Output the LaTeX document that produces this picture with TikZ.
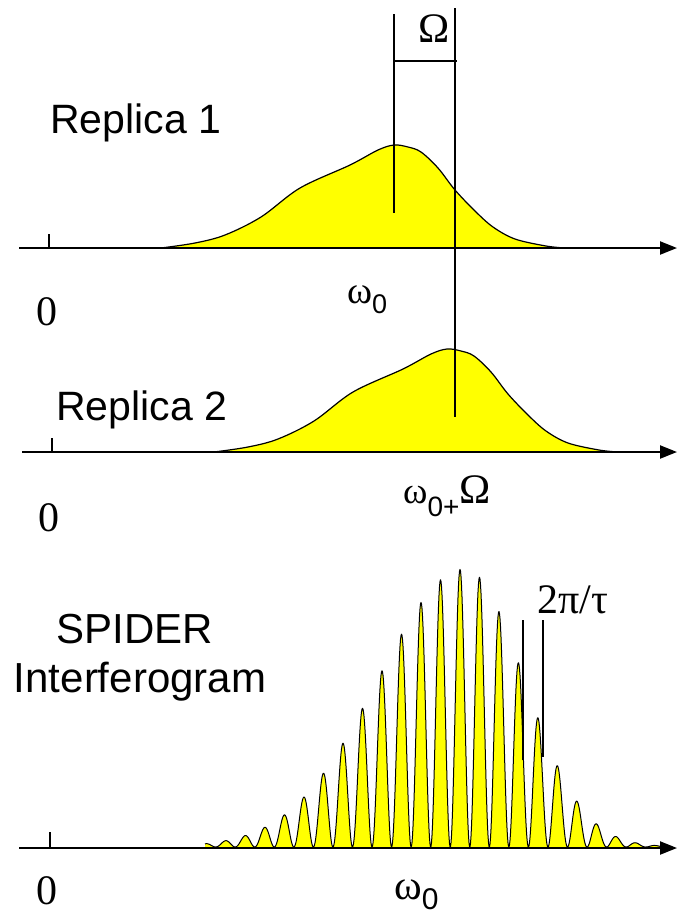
\documentclass[tikz,border=0pt]{standalone}
\usepackage{fontspec}
\setmainfont{Liberation Serif}
\newfontfamily\arialfont{Liberation Sans}
\usepackage{xcolor}
\definecolor{specYellow}{HTML}{FFFF00}
\usetikzlibrary{arrows.meta}

\begin{document}
\begin{tikzpicture}[
    x=1pt, y=-1pt,
    % piecewise gaussian spectral envelope (centre, left width, right width)
    declare function={
        env(\x,\c,\l,\r) = (\x<\c) ? exp(-0.5*((\x-\c)/\l)^2) : exp(-0.5*((\x-\c)/\r)^2);
    },
    axis/.style={line width=2.2pt, -{Triangle[length=17pt,width=13pt]}},
    tick/.style={line width=1.4pt},
    marker/.style={line width=1.8pt},
    spec/.style={fill=specYellow},
    specline/.style={line width=1.2pt, line join=round},
    lbl/.style={font=\fontsize{41}{45}\selectfont\arialfont, inner sep=0pt},
    num/.style={font=\fontsize{42}{46}\selectfont, inner sep=0pt},
    % one spectral replica, drawn at the position of replica 1
    replica/.pic={
        \filldraw[spec, specline] plot[smooth, tension=0.55] coordinates {
            (161,248) (195,243) (225,235) (261,217) (300,188) (350,165)
            (378,150) (394,145) (408,147) (421,152) (438,168) (455,190)
            (475,211) (493,227) (515,239) (546,246) (565,248)} -- cycle;
    },
]
\useasboundingbox (0,0) rectangle (679,914);

%% =================================================================
%% Replica 1
%% =================================================================
\pic at (0,0) {replica};

\coordinate (ax1s) at (19,248);
\coordinate (ax1e) at (677,248);
\draw[axis] (ax1s) -- (ax1e);
\coordinate (tk1) at (49,248);
\draw[tick] (tk1) -- ++(0,-14);

\node[lbl, anchor=base west] (rep1) at (50,133) {Replica 1};
\node[num, anchor=base] (zero1) at (46.5,325) {0};
\node[num, anchor=base west] (w1) at (347,303)
    {\fontsize{38}{40}\selectfont ω\raisebox{-10pt}{\fontsize{27}{29}\arialfont 0}};

%% =================================================================
%% Replica 2
%% =================================================================
\pic at (53,204) {replica};

\coordinate (ax2s) at (22,452);
\coordinate (ax2e) at (677,452);
\draw[axis] (ax2s) -- (ax2e);
\coordinate (tk2) at (52,452);
\draw[tick] (tk2) -- ++(0,-14);

\node[lbl, anchor=base west] (rep2) at (56,420) {Replica 2};
\node[num, anchor=base] (zero2) at (49,531) {0};
\node[num, anchor=base west] (w2) at (403,503)
    {\fontsize{37}{40}\selectfont ω\raisebox{-13pt}{\fontsize{28}{30}\arialfont 0+}\fontsize{42}{46}\selectfont Ω};

%% shear markers (omega_0 and omega_0 + Omega)
\coordinate (om0top) at (394,14);
\coordinate (om0bot) at (394,213);
\coordinate (omtop) at (455,8);
\coordinate (ombot) at (455,417);
\coordinate (barl) at (394,61);
\coordinate (barr) at (457,61);
\draw[marker] (om0top) -- (om0bot);
\draw[marker] (omtop) -- (ombot);
\draw[marker] (barl) -- (barr);
\node[num, anchor=base] (shear) at (434,42) {Ω};

%% =================================================================
%% SPIDER interferogram
%% =================================================================
\fill[spec] (205,847) -- plot[domain=205:662, samples=915]
    (\x, {847 - 139*env(\x,465,87,59)*(1+cos(18.414*(\x-460)))}) -- (662,847) -- cycle;
\draw[specline, line width=1pt] plot[domain=205:662, samples=915]
    (\x, {847 - 139*env(\x,465,87,59)*(1+cos(18.414*(\x-460)))});

\coordinate (ax3s) at (19,848);
\coordinate (ax3e) at (677,848);
\draw[axis] (ax3s) -- (ax3e);
\coordinate (tk3) at (50,848);
\draw[tick] (tk3) -- ++(0,-16);

\node[lbl, font=\fontsize{42}{46}\selectfont\arialfont, anchor=base] (spider) at (134.5,643) {SPIDER};
\node[lbl, font=\fontsize{42}{46}\selectfont\arialfont, anchor=base] (interf) at (140,692) {Interferogram};
\node[num, anchor=base] (zero3) at (46.5,904) {0};
\node[num, anchor=base west] (w3) at (394,899)
    {ω\raisebox{-10pt}{\fontsize{30}{32}\arialfont 0}};

%% fringe spacing markers
\coordinate (fr1top) at (523,620);
\coordinate (fr1bot) at (523,760);
\coordinate (fr2top) at (543,620);
\coordinate (fr2bot) at (543,757);
\draw[marker] (fr1top) -- (fr1bot);
\draw[marker] (fr2top) -- (fr2bot);
\node[num, anchor=base] (period) at (573,613) {2π/τ};

\end{tikzpicture}
\end{document}
